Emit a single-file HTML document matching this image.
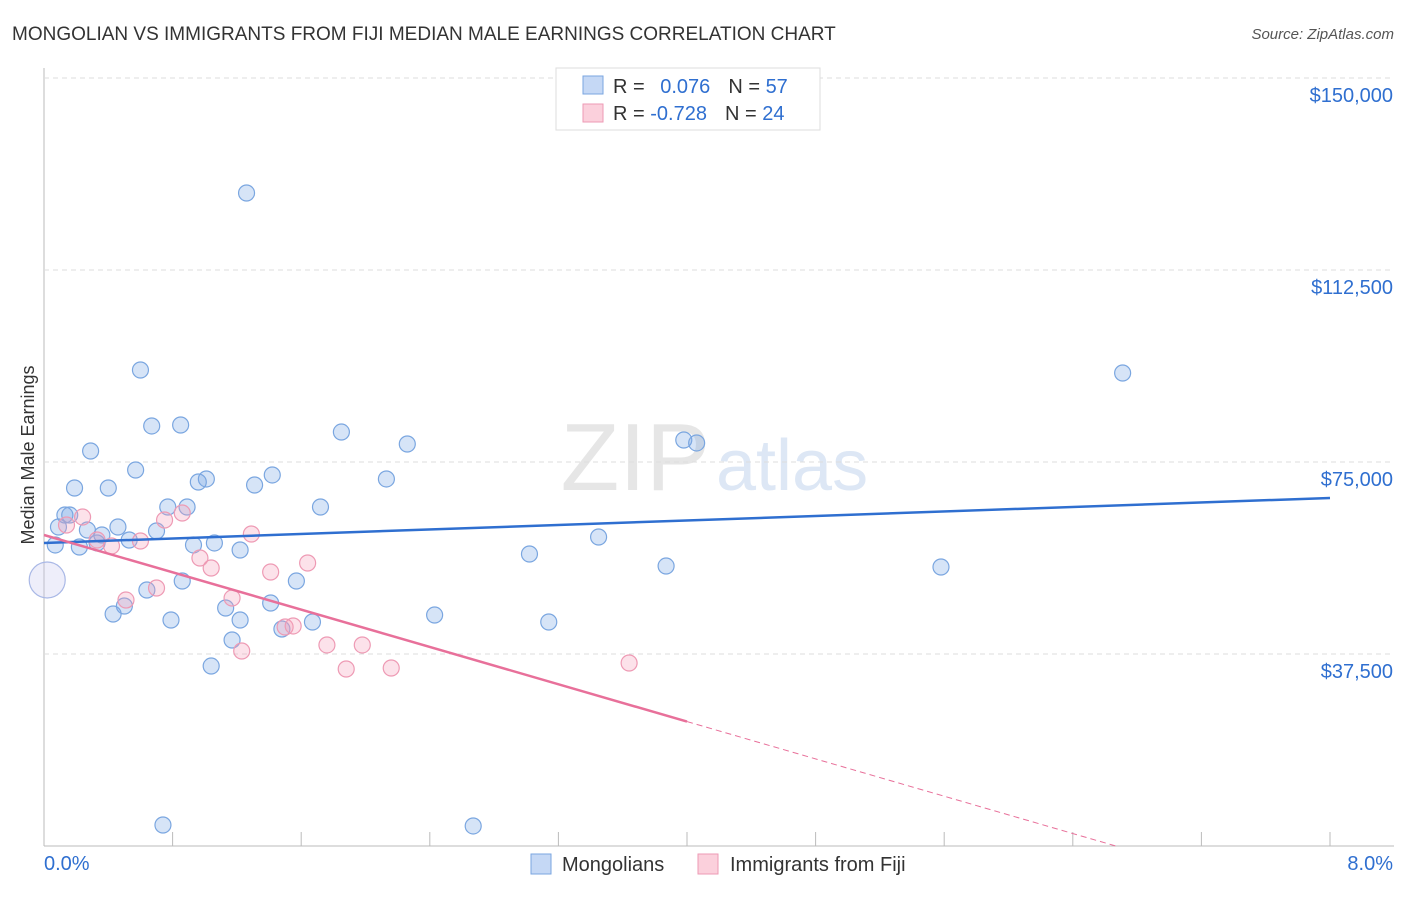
<!DOCTYPE html>
<html><head><meta charset="utf-8"><style>
body{margin:0;background:#fff;font-family:"Liberation Sans",sans-serif}
svg text{font-family:"Liberation Sans",sans-serif}
</style></head><body>
<svg id="chart" width="1406" height="892">
<text x="12" y="40" font-size="19" fill="#333">MONGOLIAN VS IMMIGRANTS FROM FIJI MEDIAN MALE EARNINGS CORRELATION CHART</text>
<text x="1394" y="39" font-size="15" fill="#555" font-style="italic" text-anchor="end">Source: ZipAtlas.com</text>
<text x="710" y="490" font-size="96" fill="#e6e6e6" text-anchor="end" font-family="Liberation Serif">ZIP</text>
<text x="716" y="490" font-size="72" fill="#dde7f5">atlas</text>
<text transform="translate(34,455) rotate(-90)" font-size="18" fill="#333" text-anchor="middle">Median Male Earnings</text>
<g id="grid"></g><g id="marks"></g>
<g>
<rect x="556" y="68" width="264" height="62" fill="#fff" stroke="#ddd"/>
<rect x="583" y="76" width="20" height="18" fill="#c5d8f5" stroke="#7aa6e0"/>
<rect x="583" y="104" width="20" height="18" fill="#fbd0dc" stroke="#ee9ab4"/>
<text x="613" y="93" font-size="20" fill="#333">R = <tspan fill="#2f6fd0" dx="10">0.076</tspan><tspan dx="18" fill="#333">N = </tspan><tspan fill="#2f6fd0">57</tspan></text>
<text x="613" y="120" font-size="20" fill="#333">R = <tspan fill="#2f6fd0">-0.728</tspan><tspan dx="18" fill="#333">N = </tspan><tspan fill="#2f6fd0">24</tspan></text>
</g>
<g>
<rect x="531" y="854" width="20" height="20" fill="#c5d8f5" stroke="#7aa6e0"/>
<text x="562" y="871" font-size="20" fill="#333">Mongolians</text>
<rect x="698" y="854" width="20" height="20" fill="#fbd0dc" stroke="#ee9ab4"/>
<text x="730" y="871" font-size="20" fill="#333">Immigrants from Fiji</text>
</g>
</svg>
<script>
const yTicks=[37500,75000,112500,150000];
const yTickLabels=["$37,500","$75,000","$112,500","$150,000"];
const blueX=[1.26,0.60,6.71,0.67,0.85,1.85,2.26,3.98,4.06,0.29,0.57,0.19,0.40,1.01,0.96,1.31,1.42,2.13,0.77,0.89,1.72,0.13,0.16,0.09,0.27,0.46,0.36,0.70,0.33,0.53,1.06,0.93,0.22,0.07,1.22,3.45,3.02,3.87,5.58,0.86,0.64,1.57,0.50,0.43,1.41,1.13,0.79,1.22,1.67,1.48,2.43,3.14,1.17,1.04,0.74,2.67];
const blueY=[127530,92960,92380,82030,82220,80850,78510,79290,78710,77140,73430,69920,69920,71680,71090,70500,72460,71680,66210,66210,66210,64640,64640,62300,61710,62300,60740,61520,59180,59760,59180,58790,58390,58790,57810,60350,57030,54680,54490,51750,50000,51750,46870,45310,47460,46480,44140,44140,43750,42380,45110,43750,40230,35150,4100,3910];
const pinkX=[0.14,0.24,0.33,0.42,0.60,0.75,0.86,0.97,1.04,1.29,1.41,1.64,1.17,0.51,0.70,1.50,1.55,1.76,1.88,1.98,2.16,1.23,3.64];
const pinkY=[62690,64250,59760,58590,59570,63670,65030,56250,54290,60930,53510,55270,48430,48040,50390,42770,42970,39260,34570,39260,34760,38080,35740];
const bigPoint=[0.02,51950];
const blueTrend=[59180,67970];
const pinkTrend=[60740,24300,4.0];
const X=v=>44+v/8*1286, Y=v=>846-v/195.3;
const NS="http://www.w3.org/2000/svg";
const grid=document.getElementById('grid'),marks=document.getElementById('marks');
function mk(p,tag,a){const e=document.createElementNS(NS,tag);for(const k in a)e.setAttribute(k,a[k]);p.appendChild(e);return e;}
let ax=mk(grid,'line',{x1:44,y1:68,x2:44,y2:846,stroke:'#bbb'});


let bx=mk(grid,'line',{x1:44,y1:846,x2:1394,y2:846,stroke:'#bbb'});


yTicks.forEach((t,i)=>{
 let g=mk(grid,'line',{x1:44,y1:Y(t),x2:1394,y2:Y(t),stroke:'#ddd','stroke-dasharray':'5,4'});
 
 
 let l=mk(grid,'text',{x:1393,y:Y(t)+24,'font-size':20,fill:'#2f6fd0','text-anchor':'end'});l.textContent=yTickLabels[i];
 
 
});
for(let i=1;i<=10;i++){let t=mk(grid,'line',{x1:X(i*0.8),y1:832,x2:X(i*0.8),y2:846,stroke:'#bbb'});
 
 }
let xl0=mk(grid,'text',{x:44,y:870,'font-size':20,fill:'#2f6fd0'});xl0.textContent='0.0%';


let xl1=mk(grid,'text',{x:1393,y:870,'font-size':20,fill:'#2f6fd0','text-anchor':'end'});xl1.textContent='8.0%';


blueX.forEach((x,i)=>{let c=mk(marks,'circle',{cx:X(x),cy:Y(blueY[i]),r:8,fill:'rgba(120,165,230,0.3)',stroke:'#7aa6e0','stroke-width':1.2});
 
 });
pinkX.forEach((x,i)=>{let c=mk(marks,'circle',{cx:X(x),cy:Y(pinkY[i]),r:8,fill:'rgba(245,160,185,0.3)',stroke:'#ee9ab4','stroke-width':1.2});
 
 });
let big=mk(marks,'circle',{cx:X(bigPoint[0]),cy:Y(bigPoint[1]),r:18,fill:'rgba(200,200,240,0.3)',stroke:'#a9b8e6','stroke-width':1.2});


let bl=mk(marks,'line',{x1:X(0),y1:Y(blueTrend[0]),x2:X(8),y2:Y(blueTrend[1]),stroke:'#2f6fd0','stroke-width':2.5});


const slope=(pinkTrend[1]-pinkTrend[0])/pinkTrend[2];
let pl=mk(marks,'line',{x1:X(0),y1:Y(pinkTrend[0]),x2:X(pinkTrend[2]),y2:Y(pinkTrend[1]),stroke:'#e8709a','stroke-width':2.5});


const xEnd=-pinkTrend[0]/slope;
let pd=mk(marks,'line',{x1:X(pinkTrend[2]),y1:Y(pinkTrend[1]),x2:X(xEnd),y2:Y(0),stroke:'#e8709a','stroke-width':1,'stroke-dasharray':'6,4'});


</script>
</body></html>
